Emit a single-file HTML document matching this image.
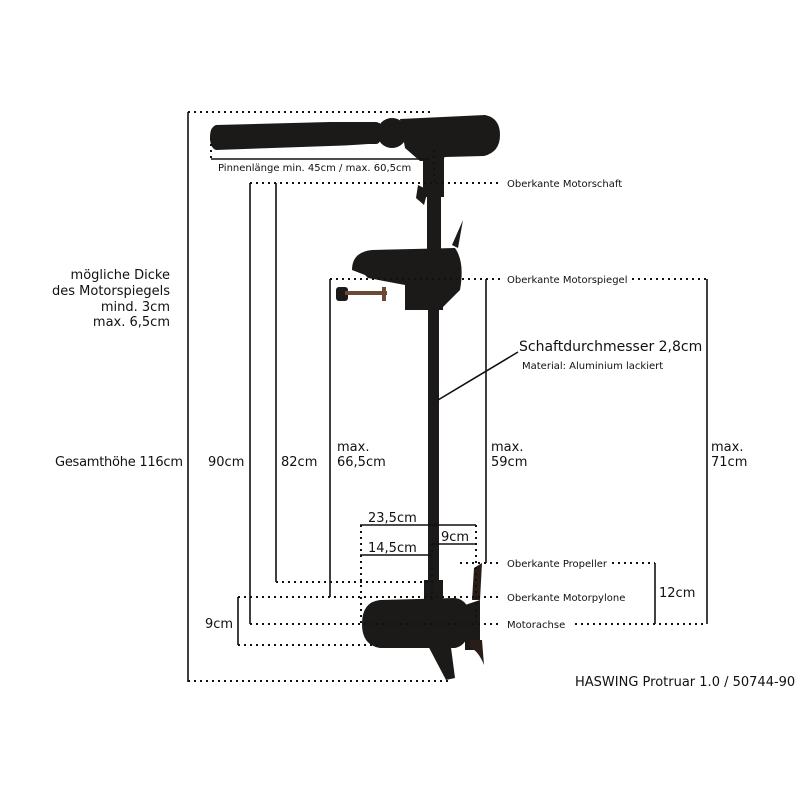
<!DOCTYPE html>
<html><head><meta charset="utf-8"><style>
html,body{margin:0;padding:0;background:#fff;}
svg{display:block;}
text{font-family:"DejaVu Sans","Liberation Sans",sans-serif;fill:#111;}
</style></head><body>
<svg width="800" height="800" viewBox="0 0 800 800" xmlns="http://www.w3.org/2000/svg">
<g fill="#1c1a19">
 <path d="M216 125 Q210 127 210 137 Q210 148 216 150 L330 146 Q360 145 378 143 L380 123 L330 122 Z"/>
 <rect x="330" y="122" width="50" height="22" rx="4"/>
 <circle cx="392" cy="133" r="15"/>
 <path d="M400 119 L485 115 Q500 118 500 135 Q500 152 484 156 L445 157 L440 161 L420 161 L405 148 Z"/>
 <rect x="423" y="155" width="21" height="42"/>
 <path d="M418 185 L428 190 L424 205 L416 198 Z"/>
 <rect x="427" y="195" width="14" height="60"/>
 <path d="M452 245 L463 220 L458 248 Z"/>
 <path d="M352 270 Q352 252 372 250 L455 248 Q465 262 460 290 L440 310 L410 310 L405 285 L368 278 L365 275 Z"/>
 <rect x="336" y="287" width="12" height="14" rx="3"/>
 <rect x="345" y="291" width="42" height="4" fill="#6b4a33"/>
 <rect x="382" y="287" width="4" height="14" fill="#6b4a33"/>
 <rect x="405" y="280" width="38" height="30"/>
 <rect x="428" y="308" width="11" height="280"/>
 <rect x="424" y="580" width="19" height="22"/>
 <path d="M380 600 L455 598 Q470 600 470 620 Q470 645 455 648 L380 648 Q362 645 362 624 Q362 602 380 600 Z"/>
 <path d="M425 640 L450 640 L455 678 L446 680 Z"/>
 <path d="M465 605 L480 600 L480 650 L465 650 Z"/>
 <path d="M474 568 L482 563 L480 600 L472 600 Z" fill="#2a1d18"/>
 <path d="M470 640 L482 640 L484 665 Q478 650 470 648 Z" fill="#2a1d18"/>
</g>
<g stroke="#111" stroke-width="1.6" fill="none">
 <line x1="188" y1="112" x2="188" y2="682"/>
 <line x1="211" y1="159" x2="430" y2="159"/>
 <line x1="250" y1="183" x2="250" y2="624"/>
 <line x1="276" y1="183" x2="276" y2="582"/>
 <line x1="330" y1="279" x2="330" y2="597"/>
 <line x1="486" y1="279" x2="486" y2="563"/>
 <line x1="707" y1="279" x2="707" y2="624"/>
 <line x1="655" y1="563" x2="655" y2="624"/>
 <line x1="238" y1="597" x2="238" y2="645"/>
 <line x1="360" y1="525" x2="476" y2="525"/>
 <line x1="360" y1="555" x2="432" y2="555"/>
 <line x1="432" y1="544" x2="476" y2="544"/>
 <line x1="438" y1="400" x2="518" y2="352"/>
</g>
<g stroke="#111" stroke-width="2" stroke-dasharray="2 4" fill="none">
 <line x1="188" y1="112" x2="430" y2="112"/>
 <line x1="188" y1="681" x2="448" y2="681"/>
 <line x1="211" y1="138" x2="211" y2="159"/>
 <line x1="434" y1="150" x2="434" y2="183"/>
 <line x1="250" y1="183" x2="500" y2="183"/>
 <line x1="330" y1="279" x2="500" y2="279"/>
 <line x1="632" y1="279" x2="707" y2="279"/>
 <line x1="276" y1="582" x2="435" y2="582"/>
 <line x1="238" y1="597" x2="500" y2="597"/>
 <line x1="250" y1="624" x2="500" y2="624"/>
 <line x1="575" y1="624" x2="707" y2="624"/>
 <line x1="238" y1="645" x2="380" y2="645"/>
 <line x1="460" y1="563" x2="500" y2="563"/>
 <line x1="612" y1="563" x2="655" y2="563"/>
 <line x1="361" y1="525" x2="361" y2="624"/>
 <line x1="476" y1="525" x2="476" y2="624"/>
 <line x1="432" y1="544" x2="432" y2="600"/>
</g>
<g font-size="10">
 <text x="218" y="171">Pinnenlänge min. 45cm / max. 60,5cm</text>
 <text x="507" y="187">Oberkante Motorschaft</text>
 <text x="507" y="283">Oberkante Motorspiegel</text>
 <text x="522" y="369">Material: Aluminium lackiert</text>
 <text x="507" y="567">Oberkante Propeller</text>
 <text x="507" y="601">Oberkante Motorpylone</text>
 <text x="507" y="628">Motorachse</text>
</g>
<g font-size="13">
 <text x="170" y="279" text-anchor="end">mögliche Dicke</text>
 <text x="170" y="295" text-anchor="end">des Motorspiegels</text>
 <text x="170" y="311" text-anchor="end">mind. 3cm</text>
 <text x="170" y="326" text-anchor="end">max. 6,5cm</text>
 <text x="55" y="466" textLength="128">Gesamthöhe 116cm</text>
 <text x="208" y="466">90cm</text>
 <text x="281" y="466">82cm</text>
 <text x="337" y="451">max.</text>
 <text x="337" y="466">66,5cm</text>
 <text x="491" y="451">max.</text>
 <text x="491" y="466">59cm</text>
 <text x="711" y="451">max.</text>
 <text x="711" y="466">71cm</text>
 <text x="368" y="522">23,5cm</text>
 <text x="441" y="541">9cm</text>
 <text x="368" y="552">14,5cm</text>
 <text x="205" y="628">9cm</text>
 <text x="659" y="597">12cm</text>
 <text x="575" y="686">HASWING Protruar 1.0 / 50744-90</text>
</g>
<text x="519" y="351" font-size="14">Schaftdurchmesser 2,8cm</text>
</svg>
</body></html>
